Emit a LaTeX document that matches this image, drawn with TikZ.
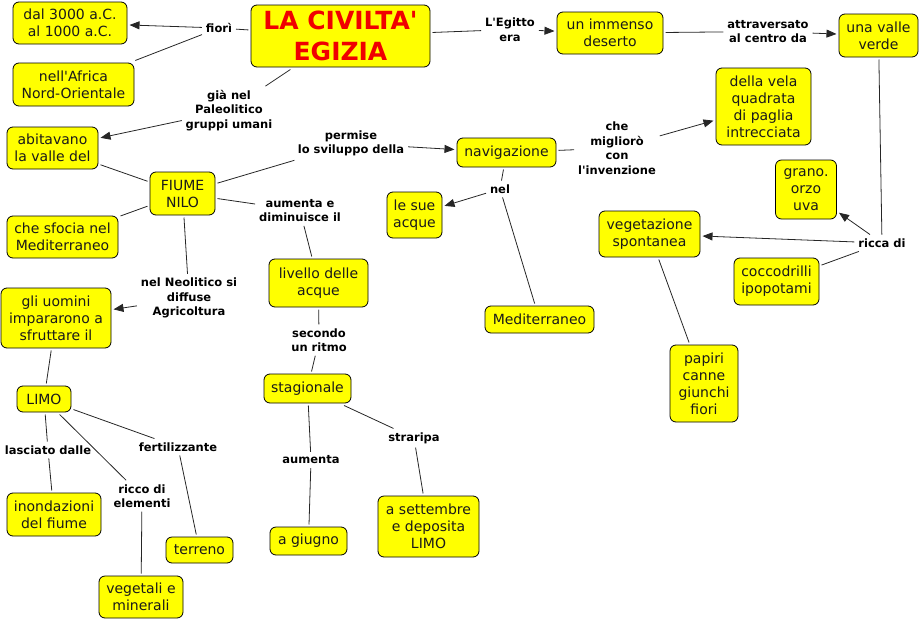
\documentclass[tikz,border=0pt]{standalone}
\usepackage{fontspec}
\setmainfont{DejaVu Sans}[Ligatures=TeXOff]
\usetikzlibrary{arrows.meta}
\definecolor{boxyellow}{HTML}{FFFF00}
\definecolor{titlered}{HTML}{F00000}
\definecolor{txt}{HTML}{1A1A1A}
\tikzset{
  cbox/.style={draw=black, line width=0.8pt, fill=boxyellow, rounded corners=6pt,
    align=center, inner sep=1pt, outer sep=2.5pt, text=txt,
    font=\fontsize{14}{17}\selectfont},
  lbl/.style={align=center, inner sep=3pt, outer sep=1pt, text=black,
    font=\bfseries\fontsize{11.5}{14.5}\selectfont},
  conn/.style={line width=0.8pt, draw=black!85},
  arr/.style={conn, -{Triangle[length=10pt,width=8pt]}},
}
\newcommand{\bx}[6]{\node[cbox, minimum width=#4pt, minimum height=#5pt] (#1) at (#2,#3) {#6};}
\begin{document}
\begin{tikzpicture}[x=1pt,y=-1pt]
\useasboundingbox (0,0) rectangle (921,621);
% boxes
\node[cbox, minimum width=179pt, minimum height=62pt, text=titlered,
  font=\bfseries\fontsize{25}{31}\selectfont] (title) at (340.5,36) {LA CIVILTA'\\EGIZIA};
\bx{dal}{70}{23}{114}{42}{dal 3000 a.C.\\al 1000 a.C.}
\bx{africa}{73.5}{84.5}{121}{43}{nell'Africa\\Nord-Orientale}
\bx{deserto}{610}{33}{106}{42}{un immenso\\deserto}
\bx{valle}{878.5}{35.5}{79}{43}{una valle\\verde}
\bx{vela}{763.5}{106.5}{95}{77}{della vela\\quadrata\\di paglia\\intrecciata}
\bx{navig}{506.5}{152.5}{99}{29}{navigazione}
\bx{acque}{414.5}{215}{55}{46}{le sue\\acque}
\bx{medit}{539.5}{319.5}{109}{27}{Mediterraneo}
\bx{papiri}{704}{383.5}{68}{77}{papiri\\canne\\giunchi\\fiori}
\bx{sett}{428.5}{526.5}{101}{61}{a settembre\\e deposita\\LIMO}
\bx{livello}{318.5}{283}{99}{48}{livello delle\\acque}
\bx{stag}{307.5}{388.5}{87}{29}{stagionale}
\bx{giugno}{308.5}{541}{77}{28}{a giugno}
\bx{uomini}{56}{318}{110}{60}{gli uomini\\impararono a\\sfruttare il}
\bx{limo}{44}{399}{54}{26}{LIMO}
\bx{inond}{54}{514.5}{94}{43}{inondazioni\\del fiume}
\bx{terreno}{199.5}{550}{67}{26}{terreno}
\bx{vegmin}{141}{597}{84}{42}{vegetali e\\minerali}
\bx{abit}{52.5}{148}{91}{42}{abitavano\\la valle del}
\bx{nilo}{182.5}{193.5}{65}{43}{FIUME\\NILO}
\bx{sfocia}{62.5}{237}{111}{42}{che sfocia nel\\Mediterraneo}
\bx{grano}{806}{189.5}{61}{59}{grano.\\orzo\\uva}
\bx{vegsp}{649.5}{234}{101}{46}{vegetazione\\spontanea}
\bx{cocco}{776.5}{281.5}{85}{47}{coccodrilli\\ipopotami}
% labels
\node[lbl] (lfiori) at (219,28) {fiorì};
\node[lbl] (legitto) at (510,29.5) {L'Egitto\\era};
\node[lbl] (lattr) at (768,31.5) {attraversato\\al centro da};
\node[lbl] (lgia) at (229,110.5) {già nel\\Paleolitico\\gruppi umani};
\node[lbl] (lpermise) at (351,143.5) {permise\\lo sviluppo della};
\node[lbl] (lche) at (617,148) {che\\migliorò\\con\\l'invenzione};
\node[lbl] (lnel) at (500,189) {nel};
\node[lbl] (lricca) at (882,243) {ricca di};
\node[lbl] (laum) at (300,210.5) {aumenta e\\diminuisce il};
\node[lbl] (lneol) at (189,298) {nel Neolitico si\\diffuse\\Agricoltura};
\node[lbl] (lsec) at (319,340) {secondo\\un ritmo};
\node[lbl] (llasc) at (48,450) {lasciato dalle};
\node[lbl] (lricco) at (142,496) {ricco di\\elementi};
\node[lbl] (lfert) at (178,447) {fertilizzante};
\node[lbl] (laumenta) at (311,460) {aumenta};
\node[lbl] (lstrar) at (414,438) {straripa};
% connectors
\draw[conn] (title) -- (lfiori);
\draw[arr] (lfiori) -- (dal);
\draw[conn] (lfiori) -- (africa);
\draw[conn] (title) -- (legitto);
\draw[arr] (legitto) -- (deserto);
\draw[conn] (deserto) -- (lattr);
\draw[arr] (lattr) -- (valle);
\draw[conn] (title) -- (lgia);
\draw[arr] (lgia) -- (abit);
\draw[conn] (abit) -- (nilo);
\draw[conn] (nilo) -- (sfocia);
\draw[conn] (nilo) -- (lpermise);
\draw[arr] (lpermise) -- (navig);
\draw[conn] (navig) -- (lche);
\draw[arr] (lche) -- (vela);
\draw[conn] (navig) -- (lnel);
\draw[arr] (lnel) -- (acque);
\draw[conn] (lnel) -- (medit);
\draw[conn] (valle) -- (lricca);
\draw[arr] (lricca) -- (grano);
\draw[arr] (lricca) -- (vegsp);
\draw[conn] (lricca) -- (cocco);
\draw[conn] (vegsp) -- (papiri);
\draw[conn] (nilo) -- (laum);
\draw[conn] (laum) -- (livello);
\draw[conn] (livello) -- (lsec);
\draw[conn] (lsec) -- (stag);
\draw[conn] (stag) -- (laumenta);
\draw[conn] (laumenta) -- (giugno);
\draw[conn] (stag) -- (lstrar);
\draw[conn] (lstrar) -- (sett);
\draw[conn] (nilo) -- (lneol);
\draw[arr] (lneol) -- (uomini);
\draw[conn] (uomini) -- (limo);
\draw[conn] (limo) -- (llasc);
\draw[conn] (llasc) -- (inond);
\draw[conn] (limo) -- (lricco);
\draw[conn] (lricco) -- (vegmin);
\draw[conn] (limo) -- (lfert);
\draw[conn] (lfert) -- (terreno);
\end{tikzpicture}
\end{document}
